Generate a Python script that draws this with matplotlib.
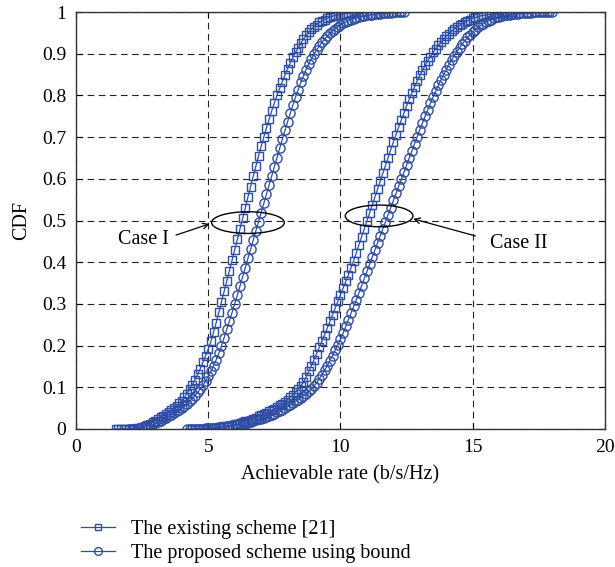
import numpy as np
import matplotlib
matplotlib.use("Agg")
import matplotlib.pyplot as plt
from matplotlib.patches import Ellipse

plt.rcParams['font.family'] = ['Liberation Serif', 'DejaVu Serif']

# CDF 數據 (x 以 0.1 為間隔)
x0_s1 = 1.5
cdf_s1 = [0, 0, 0, 0, 0, 0, 0, 0,
          0.002, 0.003, 0.005, 0.007, 0.010, 0.013, 0.016, 0.020,
          0.024, 0.028, 0.032, 0.036, 0.041, 0.046, 0.051, 0.056, 0.062, 0.068,
          0.076, 0.085, 0.095, 0.106, 0.118, 0.131, 0.145, 0.160, 0.176, 0.192,
          0.210, 0.232, 0.255, 0.280, 0.305, 0.330, 0.355, 0.380, 0.405, 0.430,
          0.455, 0.480, 0.505, 0.530, 0.556, 0.581, 0.606, 0.630, 0.654, 0.678,
          0.700, 0.722, 0.743, 0.763, 0.782, 0.800, 0.817, 0.833, 0.849, 0.864,
          0.878, 0.891, 0.903, 0.914, 0.925, 0.935, 0.944, 0.952, 0.959, 0.965,
          0.970, 0.975, 0.979, 0.982, 0.985, 0.988, 0.990, 0.992, 0.993, 0.994,
          0.995, 0.996, 0.997, 0.998, 0.998, 0.999, 0.999, 1.0]

x0_c1 = 2.0
cdf_c1 = [0, 0, 0, 0.001, 0.002, 0.003, 0.005, 0.007, 0.009, 0.011, 0.014,
          0.017, 0.020, 0.023, 0.026, 0.030, 0.034, 0.038, 0.042, 0.046, 0.050,
          0.055, 0.060, 0.066, 0.073, 0.080, 0.088, 0.096, 0.105, 0.115, 0.126,
          0.138, 0.151, 0.166, 0.182, 0.200, 0.219, 0.239, 0.259, 0.279, 0.300,
          0.321, 0.343, 0.365, 0.387, 0.409, 0.431, 0.453, 0.475, 0.497, 0.519,
          0.541, 0.563, 0.585, 0.607, 0.629, 0.651, 0.673, 0.695, 0.716, 0.737,
          0.757, 0.777, 0.796, 0.814, 0.831, 0.847, 0.862, 0.876, 0.888, 0.899,
          0.909, 0.918, 0.927, 0.935, 0.942, 0.949, 0.955, 0.960, 0.965, 0.969,
          0.973, 0.976, 0.979, 0.982, 0.984, 0.986, 0.988, 0.990, 0.991, 0.992,
          0.993, 0.994, 0.995, 0.996, 0.996, 0.997, 0.997, 0.998, 0.998, 0.999,
          0.999, 0.999, 1.0, 1.0]

x0_s2 = 4.5
cdf_s2 = [0, 0, 0, 0.001, 0.001, 0.002, 0.002, 0.003, 0.003, 0.004, 0.005,
          0.006, 0.007, 0.008, 0.009, 0.011, 0.012, 0.014, 0.016, 0.018, 0.020,
          0.022, 0.024, 0.027, 0.030, 0.033, 0.036, 0.039, 0.042, 0.045, 0.049,
          0.053, 0.057, 0.061, 0.065, 0.070, 0.076, 0.082, 0.089, 0.096, 0.104,
          0.112, 0.125, 0.138, 0.152, 0.166, 0.181, 0.196, 0.211, 0.226, 0.242,
          0.258, 0.274, 0.290, 0.306, 0.322, 0.338, 0.354, 0.370, 0.387, 0.404,
          0.423, 0.442, 0.461, 0.480, 0.499, 0.518, 0.537, 0.556, 0.575, 0.594,
          0.613, 0.632, 0.651, 0.670, 0.688, 0.706, 0.724, 0.741, 0.758, 0.775,
          0.791, 0.806, 0.821, 0.835, 0.848, 0.860, 0.872, 0.883, 0.893, 0.903,
          0.912, 0.920, 0.928, 0.935, 0.942, 0.948, 0.954, 0.959, 0.964, 0.968,
          0.972, 0.976, 0.979, 0.982, 0.985, 0.987, 0.989, 0.991, 0.992, 0.993,
          0.994, 0.995, 0.996, 0.997, 0.997, 0.998, 0.998, 0.999, 0.999, 1.0]

x0_c2 = 4.2
cdf_c2 = [0, 0, 0, 0, 0.001, 0.001, 0.001, 0.002, 0.002,
          0.002, 0.003, 0.003, 0.004, 0.004, 0.005, 0.006, 0.007, 0.008, 0.009,
          0.010, 0.011, 0.012, 0.013, 0.015, 0.017, 0.019, 0.021, 0.023, 0.025,
          0.027, 0.029, 0.031, 0.034, 0.037, 0.040, 0.043, 0.046, 0.050, 0.054,
          0.058, 0.062, 0.066, 0.070, 0.075, 0.080, 0.085, 0.091, 0.097, 0.103,
          0.111, 0.120, 0.130, 0.141, 0.152, 0.164, 0.176, 0.189, 0.202, 0.215,
          0.230, 0.246, 0.262, 0.278, 0.294, 0.310, 0.327, 0.344, 0.361, 0.378,
          0.395, 0.412, 0.429, 0.446, 0.463, 0.480, 0.497, 0.514, 0.531, 0.548,
          0.565, 0.582, 0.599, 0.616, 0.633, 0.650, 0.667, 0.684, 0.701, 0.718,
          0.734, 0.750, 0.766, 0.781, 0.796, 0.810, 0.824, 0.837, 0.850, 0.862,
          0.874, 0.885, 0.895, 0.905, 0.914, 0.923, 0.931, 0.939, 0.946, 0.952,
          0.958, 0.963, 0.968, 0.972, 0.976, 0.979, 0.982, 0.985, 0.987, 0.989,
          0.991, 0.992, 0.993, 0.994, 0.995, 0.996, 0.996, 0.997, 0.997, 0.998,
          0.998, 0.998, 0.999, 0.999, 0.999, 0.999, 1.0, 1.0, 1.0, 1.0]

legend_labels = ['The existing scheme [21]', 'The proposed scheme using bound']


def xgrid(x0, ys):
    return np.round(x0 + 0.1 * np.arange(len(ys)), 1)


COLOR = '#2f4ea3'

fig = plt.figure(figsize=(6.15, 5.67), dpi=100)
ax = fig.add_axes([0.1236, 0.2434, 0.8601, 0.7354])

sq = dict(marker='s', markersize=5.6, markerfacecolor='none', markeredgewidth=1.0,
          color=COLOR, linewidth=0.9)
ci = dict(marker='o', markersize=6.6, markerfacecolor='none', markeredgewidth=1.0,
          color=COLOR, linewidth=0.9)

l1, = ax.plot(xgrid(x0_s1, cdf_s1), cdf_s1, **sq)
l2, = ax.plot(xgrid(x0_c1, cdf_c1), cdf_c1, **ci)
ax.plot(xgrid(x0_s2, cdf_s2), cdf_s2, **sq)
ax.plot(xgrid(x0_c2, cdf_c2), cdf_c2, **ci)

ax.set_xlim(0, 20)
ax.set_ylim(0, 1)
ax.set_xticks([0, 5, 10, 15, 20])
ax.set_yticks(np.arange(0, 1.01, 0.1))
ax.set_yticklabels(['0', '0.1', '0.2', '0.3', '0.4', '0.5', '0.6', '0.7', '0.8', '0.9', '1'])
ax.tick_params(direction='in', length=4, width=0.8, top=True, right=True,
               labelsize=14, pad=7)
ax.grid(True, color='#222222', linestyle=(0, (6, 4)), linewidth=0.8)
for s in ax.spines.values():
    s.set_linewidth(1.0)
    s.set_color('#333333')

ax.set_xlabel('Achievable rate (b/s/Hz)', fontsize=14.5, labelpad=7)
ax.set_ylabel('CDF', fontsize=14.5, labelpad=8)

# 標註橢圓與箭頭
ax.add_patch(Ellipse((6.5, 0.495), 2.75, 0.052, fill=False, color='black', linewidth=1.0, zorder=5))
ax.add_patch(Ellipse((11.46, 0.511), 2.56, 0.052, fill=False, color='black', linewidth=1.0, zorder=5))
ax.text(2.55, 0.455, 'Case I', fontsize=14.5, ha='center', va='center')
ax.text(16.75, 0.445, 'Case II', fontsize=14.5, ha='center', va='center')
ax.annotate('', xy=(5.05, 0.492), xytext=(3.78, 0.465),
            arrowprops=dict(arrowstyle='->', color='black', linewidth=0.9, shrinkA=0, shrinkB=0))
ax.annotate('', xy=(12.75, 0.504), xytext=(15.1, 0.463),
            arrowprops=dict(arrowstyle='->', color='black', linewidth=0.9, shrinkA=0, shrinkB=0))

fig.legend([l1, l2], legend_labels, loc='upper left', bbox_to_anchor=(0.118, 0.097),
           frameon=False, fontsize=14.5, handlelength=1.7, handletextpad=0.8,
           labelspacing=0.25, markerscale=0.85, borderaxespad=0)

fig.savefig('out.png', dpi=100)
